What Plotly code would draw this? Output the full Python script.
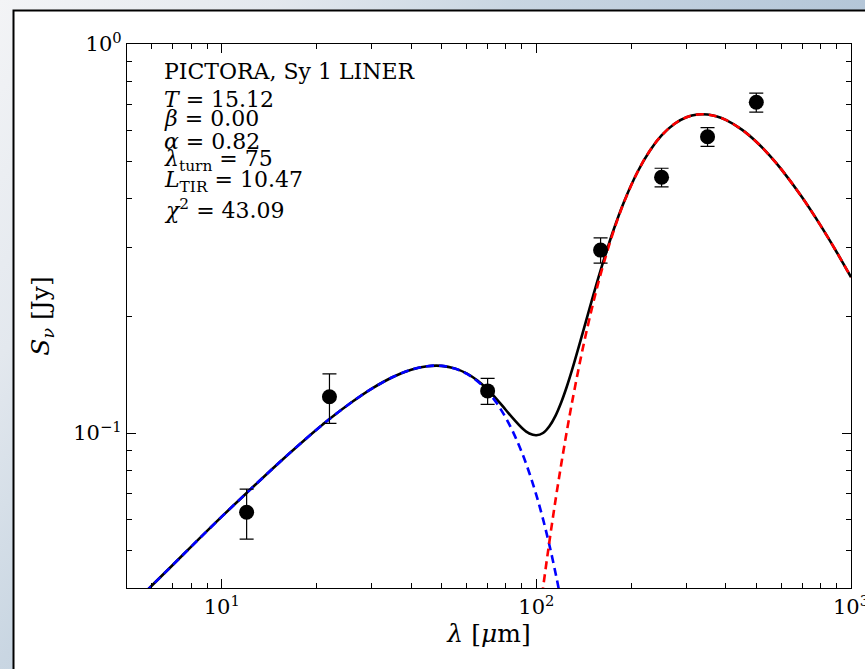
import base64
import plotly.graph_objects as go

# Observed photometry (wavelength in micron, flux density in Jy)
obs_wl = [12, 22, 70, 160, 250, 350, 500]
obs_flux = [0.0626, 0.1240, 0.1284, 0.2954, 0.4544, 0.5776, 0.7082]
obs_err = [0.0092, 0.0180, 0.0099, 0.0220, 0.0250, 0.0320, 0.0400]

# Mid-IR power-law component
pl_wl = [5, 6, 7, 8, 10, 12, 15, 18, 22, 26, 30, 35, 40, 45, 50, 55, 60, 65, 70, 75,
         80, 85, 90, 95, 100, 105, 110, 115, 120, 125]
pl_flux = [0.0350, 0.0406, 0.0459, 0.0511, 0.0610, 0.0702, 0.0831, 0.0948, 0.1087, 0.1204,
           0.1302, 0.1394, 0.1455, 0.1486, 0.1489, 0.1466, 0.1422, 0.1359, 0.1281, 0.1191,
           0.1094, 0.0993, 0.0891, 0.0790, 0.0693, 0.0601, 0.0516, 0.0438, 0.0368, 0.0306]

# Cold greybody component
bb_wl = [95, 100, 105, 110, 115, 120, 125, 130, 140, 150, 160, 175, 190, 210, 230, 250,
         275, 300, 325, 350, 375, 400, 450, 500, 550, 600, 700, 800, 900, 1000]
bb_flux = [0.0208, 0.0295, 0.0400, 0.0526, 0.0671, 0.0833, 0.1012, 0.1206, 0.1630, 0.2086,
           0.2558, 0.3260, 0.3923, 0.4700, 0.5334, 0.5820, 0.6239, 0.6482, 0.6587, 0.6587,
           0.6512, 0.6382, 0.6024, 0.5607, 0.5179, 0.4768, 0.4030, 0.3418, 0.2921, 0.2516]

# Total model SED
tot_wl = [5, 6, 7, 8, 10, 12, 15, 18, 22, 26, 30, 35, 40, 45, 50, 55, 60, 65, 70, 75,
          80, 85, 90, 95, 100, 105, 110, 115, 120, 125, 130, 140, 150, 160, 175, 190, 210,
          230, 250, 275, 300, 325, 350, 375, 400, 450, 500, 550, 600, 700, 800, 900, 1000]
tot_flux = [0.0350, 0.0406, 0.0459, 0.0511, 0.0610, 0.0702, 0.0831, 0.0948, 0.1087, 0.1204,
            0.1302, 0.1394, 0.1455, 0.1486, 0.1489, 0.1467, 0.1424, 0.1365, 0.1295, 0.1220,
            0.1147, 0.1083, 0.1031, 0.0998, 0.0988, 0.1001, 0.1042, 0.1108, 0.1201, 0.1318,
            0.1458, 0.1796, 0.2191, 0.2621, 0.3288, 0.3934, 0.4703, 0.5334, 0.5820, 0.6239,
            0.6482, 0.6587, 0.6587, 0.6512, 0.6382, 0.6024, 0.5607, 0.5179, 0.4768, 0.4030,
            0.3418, 0.2921, 0.2516]

fit_lines = [
    "PICTORA, Sy 1 LINER",
    "<i>T</i> = 15.12",
    "<i>β</i> = 0.00",
    "<i>α</i> = 0.82",
    "<i>λ</i><sub>turn</sub> = 75",
    "<i>L</i><sub>TIR</sub> = 10.47",
    "<i>χ</i><sup>2</sup> = 43.09",
]

x_ticks = [10, 100, 1000]
x_ticktext = ["10<sup>1</sup>", "10<sup>2</sup>", "10<sup>3</sup>"]
x_minor = [5, 6, 7, 8, 9, 20, 30, 40, 50, 60, 70, 80, 90, 200, 300, 400, 500, 600, 700, 800, 900]
y_ticks = [0.1, 1.0]
y_ticktext = ["10<sup>−1</sup>", "10<sup>0</sup>"]
y_minor = [0.04, 0.05, 0.06, 0.07, 0.08, 0.09, 0.2, 0.3, 0.4, 0.5, 0.6, 0.7, 0.8, 0.9]

FONT = "DejaVu Serif"
W, H = 865, 669
ML, MR, MT, MB = 127, 14, 44, 81
PW, PH = W - ML - MR, H - MT - MB

fig = go.Figure()
fig.add_trace(go.Scatter(x=tot_wl, y=tot_flux, mode="lines",
                         line=dict(color="black", width=2.6, shape="spline")))
fig.add_trace(go.Scatter(x=pl_wl, y=pl_flux, mode="lines",
                         line=dict(color="#0000ff", width=2.6, dash="8px,5px", shape="spline")))
fig.add_trace(go.Scatter(x=bb_wl, y=bb_flux, mode="lines",
                         line=dict(color="#ff0000", width=2.6, dash="8px,5px", shape="spline")))
fig.add_trace(go.Scatter(x=obs_wl, y=obs_flux, mode="markers",
                         marker=dict(color="black", size=15),
                         error_y=dict(type="data", array=obs_err, color="black",
                                      thickness=1.2, width=7)))

# window-style backdrop with a white panel
svg = f"""<svg xmlns='http://www.w3.org/2000/svg' width='{W}' height='{H}' viewBox='0 0 {W} {H}'>
<defs><linearGradient id='bg' x1='0' y1='0' x2='{W}' y2='{H}' gradientUnits='userSpaceOnUse'>
<stop offset='0' stop-color='#f3f4f6'/><stop offset='0.2' stop-color='#e3e8ee'/>
<stop offset='0.37' stop-color='#c9d6e2'/><stop offset='0.63' stop-color='#b4c6d8'/>
<stop offset='1' stop-color='#a8bcd0'/></linearGradient></defs>
<rect width='{W}' height='{H}' fill='url(#bg)'/>
<rect x='13.5' y='10.5' width='{W}' height='{H}' fill='#ffffff' stroke='#000000' stroke-width='2'/>
</svg>"""
src = "data:image/svg+xml;base64," + base64.b64encode(svg.encode()).decode()
fig.add_layout_image(dict(source=src, xref="paper", yref="paper",
                          x=-ML / PW, y=1 + MT / PH, sizex=W / PW, sizey=H / PH,
                          xanchor="left", yanchor="top", sizing="stretch", layer="below"))

text_y = [71, 100, 119, 141, 160, 181, 209]
for txt, py in zip(fit_lines, text_y):
    fig.add_annotation(text=txt, xref="paper", yref="paper",
                       x=(162 - ML) / PW, y=(H - MB - py) / PH,
                       xanchor="left", yanchor="middle", showarrow=False,
                       font=dict(family=FONT, size=22, color="black"))

axis_common = dict(type="log", showgrid=False, zeroline=False, showline=True,
                   linecolor="black", linewidth=1.3, mirror="allticks",
                   ticks="inside", ticklen=9, tickwidth=1.1, tickcolor="black",
                   ticklabeloverflow="allow",
                   tickfont=dict(family=FONT, size=21, color="black"))

fig.update_xaxes(**axis_common, range=[0.69897, 3.0], tickvals=x_ticks, ticktext=x_ticktext,
                 minor=dict(tickvals=x_minor, ticks="inside", ticklen=5, tickwidth=1,
                            tickcolor="black", showgrid=False),
                 title=dict(text="<i>λ</i> [<i>μ</i>m]", font=dict(family=FONT, size=25, color="black"),
                            standoff=6))
fig.update_yaxes(**axis_common, range=[-1.39794, 0.0], tickvals=y_ticks, ticktext=y_ticktext,
                 minor=dict(tickvals=y_minor, ticks="inside", ticklen=5, tickwidth=1,
                            tickcolor="black", showgrid=False),
                 title=dict(text="<i>S</i><sub><i>ν</i></sub> [Jy]",
                            font=dict(family=FONT, size=25, color="black"), standoff=16))

fig.update_layout(width=W, height=H, showlegend=False,
                  margin=dict(l=ML, r=MR, t=MT, b=MB, autoexpand=False),
                  paper_bgcolor="white", plot_bgcolor="rgba(0,0,0,0)")

fig.write_html("out.html", config={"displayModeBar": False})
